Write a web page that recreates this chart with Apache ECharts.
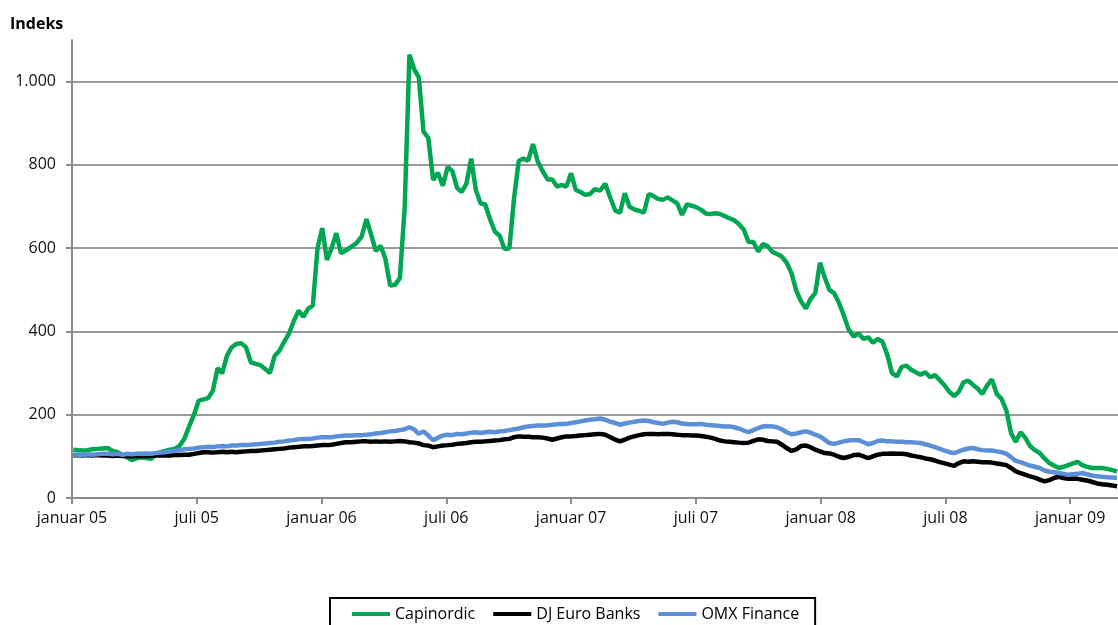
<!DOCTYPE html>
<html>
<head>
<meta charset="utf-8">
<script src="https://cdn.jsdelivr.net/npm/echarts@6/dist/echarts.min.js"></script>
<style>
html,body{margin:0;padding:0;background:#fff;}
#chart{width:1118px;height:625px;}
</style>
</head>
<body>
<div id="chart"></div>
<script>
// Weekly observations starting Monday 3 January 2005
const startDate = '2005-01-03';
const seriesNames = ['Capinordic', 'DJ Euro Banks', 'OMX Finance'];
const yTicks = [0, 200, 400, 600, 800, 1000];
const xTickLabels = ['januar 05','juli 05','januar 06','juli 06','januar 07','juli 07','januar 08','juli 08','januar 09'];

const capinordic = [
116,115,114,115,117,118,119,120,113,110,
104,98,91,95,98,96,94,104,110,113,
116,118,125,142,172,200,234,237,240,258,
312,300,342,362,370,372,362,326,322,319,
310,300,341,353,375,395,425,450,435,455,
462,600,648,572,600,636,588,595,603,612,
628,670,632,593,606,575,510,512,528,700,
1065,1030,1010,880,865,764,781,750,795,785,
745,735,755,815,740,708,705,670,640,630,
598,600,720,810,815,810,850,808,785,765,
765,748,752,748,780,740,735,728,730,742,
738,755,720,690,685,732,700,693,690,685,
730,725,718,716,722,715,708,680,705,702,
698,692,683,682,684,682,677,672,667,658,
645,615,615,592,610,605,591,586,580,565,
540,497,472,455,478,492,565,530,500,492,
470,440,405,388,395,382,386,373,382,376,
345,300,292,315,318,308,302,296,302,290,
295,283,270,255,245,255,278,282,272,263,
250,270,285,250,238,210,155,135,158,145,
125,115,108,95,84,78,72,75,79,83,
87,79,75,72,72,72,70,67,64
];

const djEuroBanks = [
102,103,102,103,102,103,102,102,101,102,
101,100,101,100,100,101,101,102,102,102,
102,103,103,104,104,106,108,110,110,109,
110,111,110,111,110,111,112,113,113,114,
115,116,117,118,119,121,122,123,124,124,
125,126,127,127,128,130,132,134,134,135,
136,136,135,136,135,136,135,136,137,136,
134,133,131,127,126,122,124,126,127,128,
130,131,132,134,135,135,136,137,138,139,
141,142,146,148,147,147,146,146,145,143,
140,143,146,148,148,149,150,151,152,153,
154,152,146,140,136,140,145,148,151,153,
154,154,153,154,154,153,152,151,151,150,
150,149,147,145,142,138,136,135,134,133,
132,133,137,141,140,137,136,135,128,120,
113,117,125,126,122,116,112,108,107,104,
99,96,99,103,104,100,96,100,104,106,
106,107,106,106,105,102,100,98,95,93,
90,86,83,80,77,84,88,87,88,87,
86,86,85,83,81,79,72,64,60,56,
52,49,44,40,43,48,51,48,46,47,
46,44,42,39,35,33,32,30,28
];

const omxFinance = [
104,104,103,105,104,105,106,106,105,106,
104,106,105,106,106,107,106,108,109,110,
112,113,115,117,118,119,121,122,123,122,
124,125,124,126,126,127,127,128,129,130,
131,132,133,135,136,138,139,141,142,142,
143,145,146,146,146,148,149,150,150,151,
151,152,153,155,156,158,160,161,163,165,
170,165,154,160,150,139,145,150,152,151,
154,153,155,157,158,156,158,159,158,160,
161,163,165,167,170,172,173,174,174,175,
176,177,178,178,180,182,184,186,188,189,
191,188,183,180,176,179,181,183,185,186,
185,182,180,178,181,183,182,179,178,177,
177,178,176,175,174,173,172,172,170,167,
162,158,163,168,172,173,172,170,165,158,
153,155,158,160,157,152,148,140,132,130,
133,136,138,139,139,134,129,132,137,138,
136,136,135,135,134,134,133,132,129,126,
122,118,114,110,108,112,116,119,120,117,
115,114,114,112,110,106,98,89,86,82,
78,75,72,66,63,62,60,58,56,57,
58,60,57,54,52,51,50,49,48
];

// convert a date to a fractional month index counted from 1 January 2005
function monthIndex(ms) {
  const d = new Date(ms);
  const y = d.getUTCFullYear(), m = d.getUTCMonth();
  const dim = new Date(Date.UTC(y, m + 1, 0)).getUTCDate();
  return (y - 2005) * 12 + m + (d.getUTCDate() - 1) / dim;
}
const t0 = Date.parse(startDate + 'T00:00:00Z');
function toPairs(values) {
  return values.map((v, i) => [monthIndex(t0 + i * 7 * 86400000), v]);
}

const FONT = '"Open Sans", "Noto Sans", sans-serif';
const chart = echarts.init(document.getElementById('chart'), null, {renderer: 'canvas'});
chart.setOption({
  animation: false,
  backgroundColor: '#ffffff',
  title: {
    text: 'Indeks', left: 5, top: 11,
    textStyle: {fontFamily: FONT, fontSize: 16, fontWeight: 'bold', color: '#000'}
  },
  grid: {left: 72, right: 0, top: 40, bottom: 127, containLabel: false},
  legend: {
    data: seriesNames,
    left: 330, top: 598,
    padding: [8, 16, 30, 22],
    itemGap: 18,
    icon: 'rect', itemWidth: 38, itemHeight: 4,
    borderColor: '#000', borderWidth: 2,
    textStyle: {fontFamily: FONT, fontSize: 16, color: '#000'}
  },
  xAxis: {
    type: 'value', min: 0, max: 50.3,
    axisLine: {show: true, lineStyle: {color: '#8c8c8c', width: 2}},
    axisTick: {show: true, length: 6, lineStyle: {color: '#8c8c8c', width: 2},
      customValues: xTickLabels.map((_, i) => i * 6)},
    axisLabel: {
      customValues: xTickLabels.map((_, i) => i * 6),
      formatter: v => xTickLabels[Math.round(v / 6)] || '',
      margin: 12, fontFamily: FONT, fontSize: 16, color: '#111'
    },
    splitLine: {show: false}
  },
  yAxis: {
    type: 'value', min: 0, max: 1100,
    axisLine: {show: true, lineStyle: {color: '#8c8c8c', width: 2}},
    axisTick: {show: true, length: 6, lineStyle: {color: '#8c8c8c', width: 2}, customValues: yTicks},
    axisLabel: {
      customValues: yTicks,
      formatter: v => v >= 1000 ? Math.floor(v / 1000) + '.' + String(v % 1000).padStart(3, '0') : String(v),
      margin: 16, fontFamily: FONT, fontSize: 16, color: '#111'
    },
    splitLine: {show: true, lineStyle: {color: '#999999', width: 2}}
  },
  series: [
    {name: seriesNames[0], type: 'line', data: toPairs(capinordic), symbol: 'none', showSymbol: false,
      lineStyle: {color: '#00a651', width: 4.5}, itemStyle: {color: '#00a651'}, z: 3},
    {name: seriesNames[1], type: 'line', data: toPairs(djEuroBanks), symbol: 'none', showSymbol: false,
      lineStyle: {color: '#000000', width: 4.5}, itemStyle: {color: '#000000'}, z: 4},
    {name: seriesNames[2], type: 'line', data: toPairs(omxFinance), symbol: 'none', showSymbol: false,
      lineStyle: {color: '#5b8fd8', width: 4.5}, itemStyle: {color: '#5b8fd8'}, z: 5}
  ]
});
</script>
</body>
</html>
